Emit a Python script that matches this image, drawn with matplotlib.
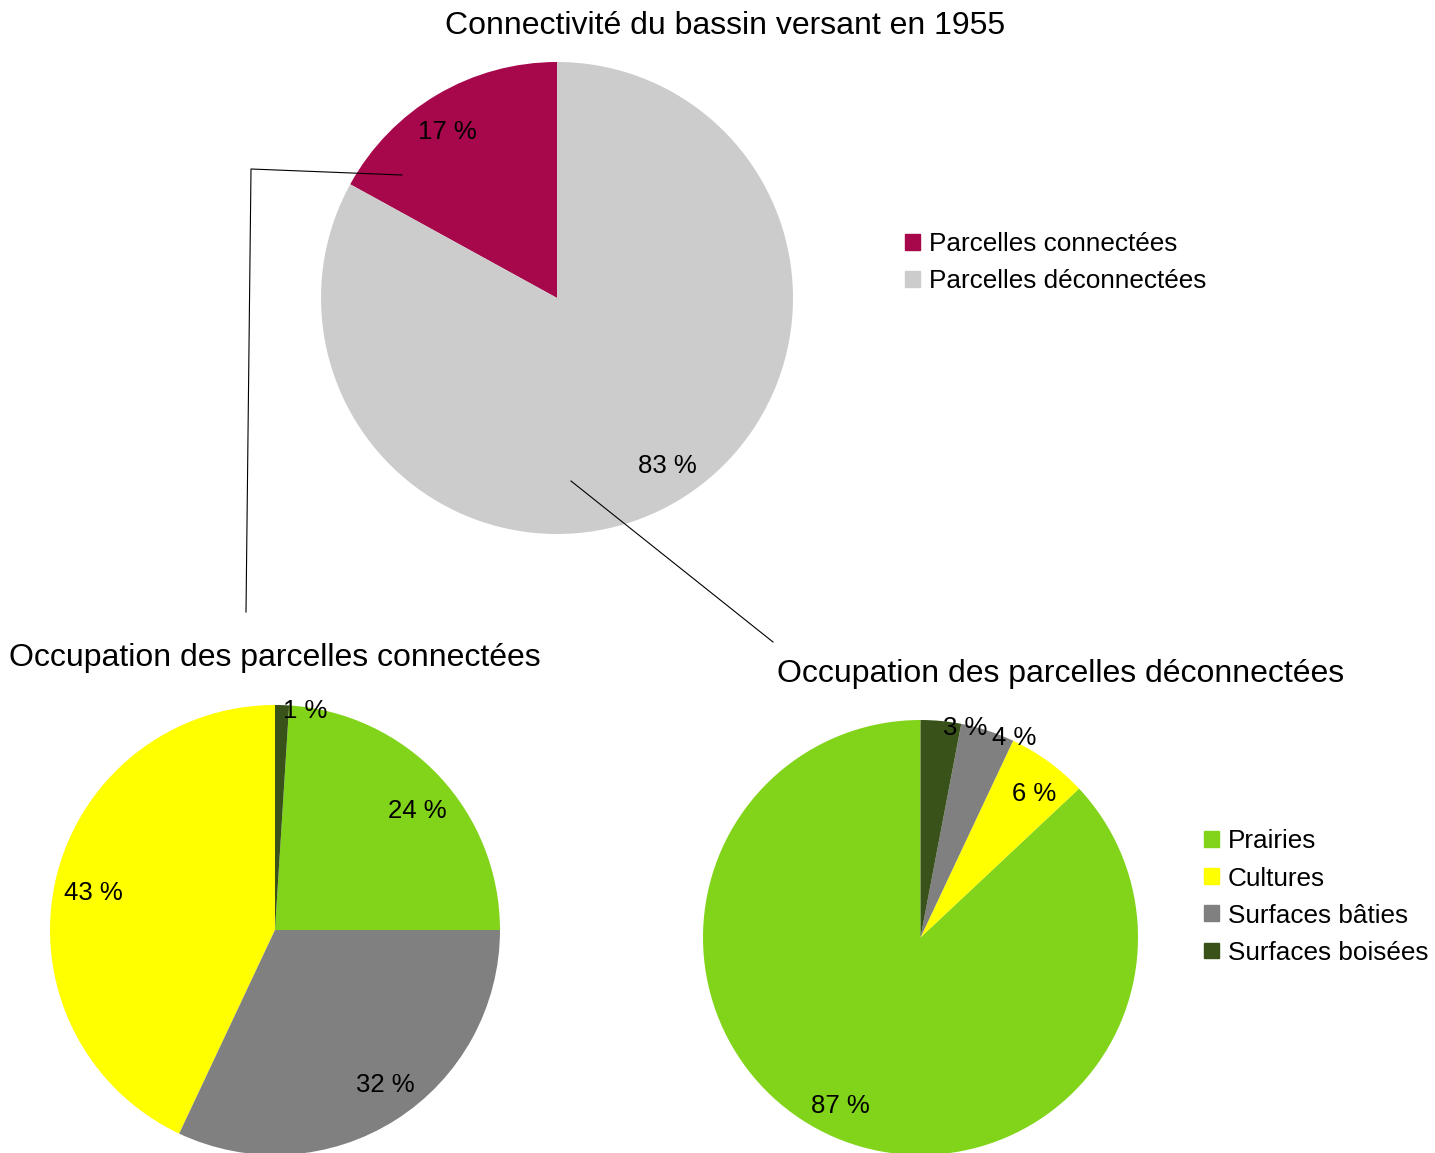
import matplotlib.pyplot as plt
from matplotlib.patches import Patch

plt.rcParams['font.family'] = ['Liberation Sans', 'DejaVu Sans']

# data
top_labels = ['Parcelles connectées', 'Parcelles déconnectées']
top_values = [17, 83]
top_colors = ['#A7074B', '#CCCCCC']

occ_labels = ['Prairies', 'Cultures', 'Surfaces bâties', 'Surfaces boisées']
occ_colors = ['#81D41A', '#FFFF00', '#808080', '#385219']
connected_values = [24, 43, 32, 1]
disconnected_values = [87, 6, 4, 3]

W, H = 1435, 1153


def py(y):
    # pixel row (from top) -> data y (from bottom)
    return H - y


fig = plt.figure(figsize=(W / 100, H / 100), dpi=100)
ax = fig.add_axes([0, 0, 1, 1])
ax.set_xlim(0, W)
ax.set_ylim(0, H)
ax.set_aspect('equal')
ax.axis('off')

fs_title = 23
fs_lab = 18.5
fs_leg = 18.8
fmt = lambda p: '%1.0f %%' % p
tp = {'fontsize': fs_lab, 'color': 'black'}

# top pie
w, t, at = ax.pie(top_values, colors=top_colors, startangle=90, center=(557, py(298)),
                  radius=236, autopct=fmt, textprops=tp, wedgeprops={'linewidth': 0})
# label spots as placed in the original
for txt, (x, y) in zip(at, [(447, 132), (667, 466)]):
    txt.set_position((x, py(y)))

# left pie: drawn counterclockwise from 12 o'clock as cultures, bâties, prairies, boisées
order_l = [1, 2, 0, 3]
w, t, at = ax.pie([connected_values[i] for i in order_l],
                  colors=[occ_colors[i] for i in order_l], startangle=90,
                  center=(275, py(930)), radius=225, autopct=fmt, textprops=tp,
                  wedgeprops={'linewidth': 0})
for txt, (x, y) in zip(at, [(93, 893), (385, 1085), (417, 811), (305, 711)]):
    txt.set_position((x, py(y)))

# right pie: prairies, cultures, bâties, boisées
w, t, at = ax.pie(disconnected_values, colors=occ_colors, startangle=90,
                  center=(920.5, py(937.5)), radius=217.5, autopct=fmt, textprops=tp,
                  wedgeprops={'linewidth': 0})
for txt, (x, y) in zip(at, [(840, 1106), (1034, 794), (1014, 738), (965, 728)]):
    txt.set_position((x, py(y)))

ax.set_xlim(0, W)
ax.set_ylim(0, H)

# connector lines
ax.plot([402, 251, 246], [py(175), py(169), py(612)], color='black', lw=0.8)
ax.plot([571, 773], [py(481), py(642)], color='black', lw=0.8)

# titles
ax.text(725, py(26), 'Connectivité du bassin versant en 1955', fontsize=fs_title,
        ha='center', va='center')
ax.text(275, py(658), 'Occupation des parcelles connectées', fontsize=fs_title,
        ha='center', va='center')
ax.text(1061, py(674), 'Occupation des parcelles déconnectées', fontsize=fs_title,
        ha='center', va='center')

# legends
h1 = [Patch(color=c, label=l) for c, l in zip(top_colors, top_labels)]
leg1 = ax.legend(handles=h1, loc='upper left', bbox_to_anchor=(895 / W, 1 - 222 / H),
                 frameon=False, fontsize=fs_leg, handlelength=0.55, handleheight=0.55,
                 handletextpad=0.35, labelspacing=0.5, borderaxespad=0)
ax.add_artist(leg1)
h2 = [Patch(color=c, label=l) for c, l in zip(occ_colors, occ_labels)]
ax.legend(handles=h2, loc='upper left', bbox_to_anchor=(1194 / W, 1 - 819 / H),
          frameon=False, fontsize=fs_leg, handlelength=0.55, handleheight=0.55,
          handletextpad=0.35, labelspacing=0.5, borderaxespad=0)

plt.savefig('out.png', dpi=100)
